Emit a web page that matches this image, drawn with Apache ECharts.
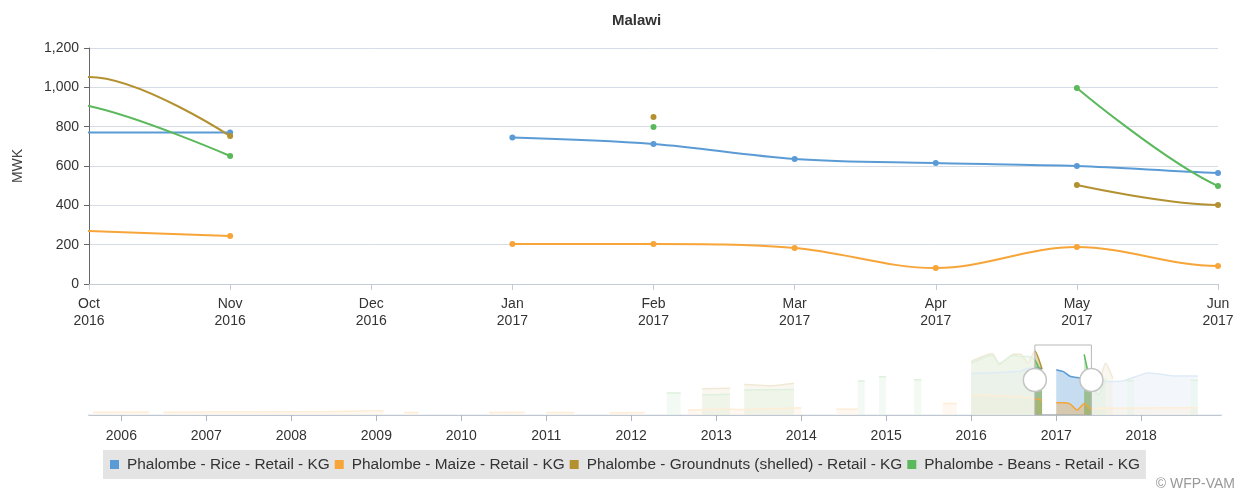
<!DOCTYPE html>
<html>
<head>
<meta charset="utf-8">
<script src="https://cdn.jsdelivr.net/npm/echarts@6/dist/echarts.min.js"></script>
<style>
html,body{margin:0;padding:0;background:#fff;}
#chart{width:1244px;height:493px;}
</style>
</head>
<body>
<div id="chart"></div>
<script>
// ---- Data ----
// Sep 2016 and Jul 2017 lie just outside the visible window (estimated from the overview strip)
const categories = ['Sep\n2016','Oct\n2016','Nov\n2016','Dec\n2016','Jan\n2017','Feb\n2017','Mar\n2017','Apr\n2017','May\n2017','Jun\n2017','Jul\n2017'];
const monthDates = ['2016-09-01','2016-10-01','2016-11-01','2016-12-01','2017-01-01','2017-02-01','2017-03-01','2017-04-01','2017-05-01','2017-06-01','2017-07-01'];
const visibleFrom = 1;   // Oct 2016
const visibleTo = 9;     // Jun 2017
const seriesNames = ['Phalombe - Rice - Retail - KG','Phalombe - Maize - Retail - KG','Phalombe - Groundnuts (shelled) - Retail - KG','Phalombe - Beans - Retail - KG'];
const rice       = [770, 770, 770, null, 745, 712, 636, 615, 600, 565, 550];
const maize      = [285, 269, 244, null, 203, 203, 183,  81, 188,  92, 110];
const groundnuts = [850, 1053, 752, null, null, 849, null, null, 503, 402, 480];
const beans      = [960, 905, 651, null, null, 798, null, null, 997, 498, 330];

// navigator history (estimated from the faint overview strip)
const riceHist = [['2016-01-01',680],['2016-05-01',700],['2016-08-01',720],
  ['2017-10-01',550],['2018-02-01',690],['2018-06-01',640],['2018-09-01',640]];
const maizeHist = [['2005-09-01',45],['2006-05-01',50],['2006-06-01',null],['2006-07-01',45],['2007-06-01',50],['2008-06-01',55],['2008-12-01',70],['2009-02-01',70],['2009-03-01',null],
  ['2009-05-01',40],['2009-07-01',40],['2009-08-01',null],['2010-05-01',40],['2010-10-01',45],['2010-11-01',null],['2011-01-01',40],['2011-05-01',40],['2011-06-01',null],
  ['2011-10-01',35],['2012-03-01',40],['2012-04-01',null],['2012-09-01',80],['2013-02-01',100],['2013-04-01',90],['2014-01-01',120],['2014-02-01',null],
  ['2014-06-01',95],['2014-09-01',95],['2014-10-01',null],['2015-09-01',190],['2015-11-01',190],['2015-12-01',null],['2016-01-01',330],['2016-08-01',300],
  ['2018-09-01',120]];
const groundnutsHist = [['2012-11-01',430],['2013-03-01',440],['2013-04-01',null],['2013-05-01',500],['2013-09-01',480],['2013-12-01',520],['2014-01-01',null],
  ['2016-01-01',880],['2016-04-01',1010],['2016-05-01',830],['2016-07-01',1000],['2016-08-01',1000],
  ['2017-08-01',850],['2017-09-01',600],['2017-10-01',null]];
const beansHist = [['2012-06-01',360],['2012-08-01',360],['2012-09-01',null],['2012-11-01',330],['2013-03-01',340],['2013-04-01',null],
  ['2013-05-01',410],['2013-12-01',420],['2014-01-01',null],['2014-09-01',560],['2014-10-01',560],['2014-11-01',null],
  ['2014-12-01',630],['2015-01-01',630],['2015-02-01',null],['2015-05-01',580],['2015-06-01',580],['2015-07-01',null],
  ['2016-01-01',850],['2016-04-01',980],['2016-05-01',850],['2016-07-01',980],['2016-08-01',960],
  ['2017-08-01',600],['2017-09-01',null],['2017-11-01',560],['2017-12-01',560],['2018-01-01',null],['2018-08-01',570],['2018-09-01',570]];

const colors = ['#5b9bd5','#f7a538','#b39131','#5cb85c'];
const navMin = '2005-08-15';
const navMax = '2018-12-10';
const navYMax = 1150;
const YEAR = 365.25*24*3600*1000;

const mainData = [rice, maize, groundnuts, beans];
const histData = [riceHist, maizeHist, groundnutsHist, beansHist];

function navSeriesData(i){
  const arr = histData[i].concat(monthDates.map((d,k)=>[d, mainData[i][k]]));
  arr.sort((a,b)=> a[0] < b[0] ? -1 : (a[0] > b[0] ? 1 : 0));
  return arr;
}

const chart = echarts.init(document.getElementById('chart'), null, {renderer:'canvas'});
const font = 'Liberation Sans, Arial, sans-serif';

const series = [];
mainData.forEach((d,i)=>{
  series.push({
    name: seriesNames[i], type:'line', xAxisIndex:0, yAxisIndex:0,
    data: d.map((v,k)=> k===visibleFrom ? {value:v, symbol:'none'} : v),
    smooth: 0.35, symbol:'circle', symbolSize:6, showSymbol:true, clip:true,
    lineStyle:{width:2, color:colors[i]}, itemStyle:{color:colors[i]},
    connectNulls:false, z:3
  });
});
histData.forEach((h,i)=>{
  series.push({
    name: seriesNames[i], type:'line', xAxisIndex:1, yAxisIndex:1,
    data: navSeriesData(i), symbol:'none', smooth:0.2,
    lineStyle:{width:1.5, color:colors[i]}, itemStyle:{color:colors[i]},
    areaStyle:{color:colors[i], opacity:0.35}, connectNulls:false, z:2, silent:true
  });
});
const selStart = monthDates[visibleFrom], selEnd = monthDates[visibleTo];
series.push({
  name:'navmask', type:'line', xAxisIndex:1, yAxisIndex:1, data:[[navMin,null]], symbol:'none', z:6, silent:true,
  markArea:{silent:true, z:10, data:[
    [{xAxis:navMin, itemStyle:{color:'rgba(255,255,255,0.8)'}},{xAxis:selStart}],
    [{xAxis:selEnd, itemStyle:{color:'rgba(255,255,255,0.8)'}},{xAxis:navMax}],
    [{xAxis:selStart, itemStyle:{color:'rgba(0,0,0,0)', borderColor:'#b8b8b8', borderWidth:1}},{xAxis:selEnd}]
  ]},
  markPoint:{silent:true, z:12, symbol:'circle', symbolSize:23, label:{show:false},
    itemStyle:{color:'#ffffff', borderColor:'#c4c4c4', borderWidth:1.5},
    data:[{coord:[selStart, navYMax/2]},{coord:[selEnd, navYMax/2]}]}
});

chart.setOption({
  animation:false,
  textStyle:{fontFamily:font},
  title:{text:'Malawi', left:607, top:8, textStyle:{fontFamily:font, fontSize:15, fontWeight:'bold', color:'#333'}},
  legend:{
    data:seriesNames, left:103, top:450, icon:'rect', itemWidth:9, itemHeight:9, itemGap:5,
    backgroundColor:'#e4e4e4', padding:[7,6,7,7], borderRadius:0,
    textStyle:{fontFamily:font, fontSize:15.4, color:'#333', padding:[0,0,0,3]}
  },
  grid:[
    {left:89, right:26, top:48, height:236},
    {left:89, right:23, top:345, height:70}
  ],
  xAxis:[
    {type:'category', gridIndex:0, data:categories, boundaryGap:false, min:visibleFrom, max:visibleTo,
     axisLine:{lineStyle:{color:'#c3cbd6'}}, axisTick:{show:true, alignWithLabel:true, length:6, lineStyle:{color:'#c3cbd6'}},
     axisLabel:{color:'#333', fontSize:14, margin:12, lineHeight:17, interval:0}, splitLine:{show:false}},
    {type:'time', gridIndex:1, min:navMin, max:navMax, minInterval:YEAR*0.99, maxInterval:YEAR*1.01,
     axisLine:{lineStyle:{color:'#a9b5c2', width:1.5}}, axisTick:{show:true, length:6, lineStyle:{color:'#a9b5c2'}},
     axisLabel:{color:'#333', fontSize:14, margin:14, formatter:'{yyyy}', showMinLabel:false, showMaxLabel:false, hideOverlap:true},
     splitLine:{show:false}}
  ],
  yAxis:[
    {type:'value', gridIndex:0, min:0, max:1200, interval:200, name:'MWK', nameLocation:'middle', nameGap:64, nameRotate:90,
     nameTextStyle:{color:'#444', fontSize:14},
     axisLine:{show:true, lineStyle:{color:'#666'}}, axisTick:{show:true, length:5, lineStyle:{color:'#666'}},
     axisLabel:{color:'#333', fontSize:14, margin:10, formatter:(v)=>v.toLocaleString('en-US')},
     splitLine:{lineStyle:{color:'#d5dce5'}}},
    {type:'value', gridIndex:1, min:0, max:navYMax, show:false, splitLine:{show:false}}
  ],
  graphic:[{type:'text', right:9, bottom:2, style:{text:'© WFP-VAM', fill:'#999', font:'14px ' + font}}],
  series: series
});
</script>
</body>
</html>
